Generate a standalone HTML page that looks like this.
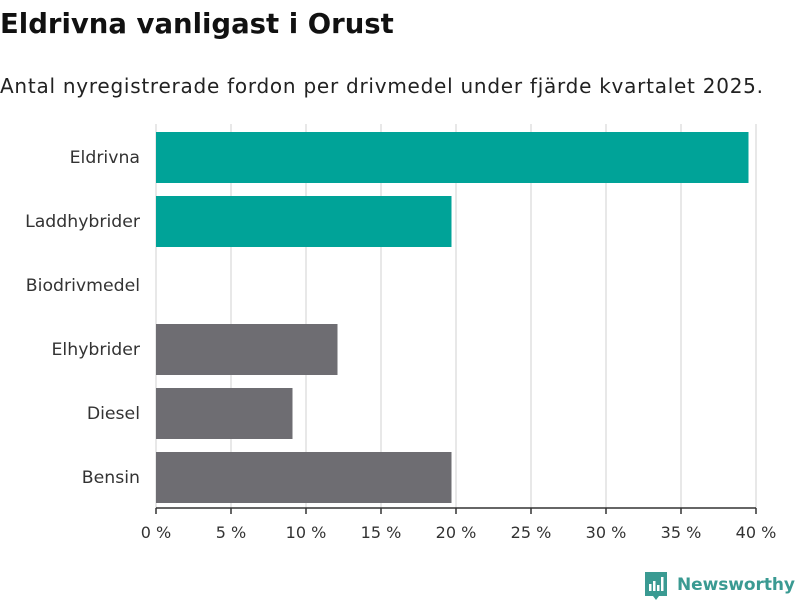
<!DOCTYPE html>
<html><head><meta charset="utf-8"><style>
body{margin:0;width:800px;height:600px;background:#fff;font-family:"DejaVu Sans","Liberation Sans",sans-serif;overflow:hidden}
</style></head><body>
<svg width="800" height="600" xmlns="http://www.w3.org/2000/svg">
<text x="0" y="33" font-size="27.5" font-weight="bold" fill="#111">Eldrivna vanligast i Orust</text>
<text x="0" y="93" font-size="20" fill="#222" textLength="763">Antal nyregistrerade fordon per drivmedel under fjärde kvartalet 2025.</text>
<g id="grid"></g><g id="bars"></g><g id="axis"></g>
<g>
<path d="M645 572 h22 v24 h-8 l-3 4 l-3 -4 h-8 z" fill="#3a9a92"/>
<rect x="649" y="584" width="2.5" height="7" fill="#fff"/><rect x="653" y="581" width="2.5" height="10" fill="#fff"/><rect x="657" y="585" width="2.5" height="6" fill="#fff"/><rect x="661" y="577" width="2.5" height="14" fill="#fff"/>
<text x="677" y="590" font-size="17" fill="#3a9a92" font-weight="bold" textLength="118">Newsworthy</text>
</g>
</svg>
<script>
const categories=["Eldrivna","Laddhybrider","Biodrivmedel","Elhybrider","Diesel","Bensin"];
const values=[39.5,19.7,0,12.1,9.1,19.7];
const colors=["#00a398","#00a398","#00a398","#6e6d72","#6e6d72","#6e6d72"];
const ticks=[0,5,10,15,20,25,30,35,40];
const NS="http://www.w3.org/2000/svg";
const X0=156,X1=756,TOP=124,BOTTOM=508,BAND=64;
const xs=v=>X0+(v/40)*(X1-X0);
function mk(t,a,p){const e=document.createElementNS(NS,t);for(const k in a)e.setAttribute(k,a[k]);p.appendChild(e);return e;}
const g=document.getElementById('grid'),b=document.getElementById('bars'),ax=document.getElementById('axis');
ticks.forEach(t=>{
 const l=mk('line',{x1:xs(t),x2:xs(t),y1:TOP,y2:BOTTOM,stroke:'#e0e0e0','stroke-width':1.5},g);
 
 
 const tk=mk('line',{x1:xs(t),x2:xs(t),y1:BOTTOM,y2:514,stroke:'#333','stroke-width':1.5},ax);
 
 
 const tx=mk('text',{x:xs(t),y:538,'font-size':16,fill:'#333','text-anchor':'middle'},ax);
 tx.textContent=t+' %';
 
 
});
const al=mk('line',{x1:X0,x2:X1,y1:BOTTOM,y2:BOTTOM,stroke:'#333','stroke-width':1.5},ax);


categories.forEach((c,i)=>{
 const y=TOP+i*BAND;
 if(values[i]>0){
 const r=mk('rect',{x:X0,y:y+8,width:xs(values[i])-X0,height:51,fill:colors[i]},b);
 
 
 }
 const t=mk('text',{x:140,y:y+39,'font-size':17.3,fill:'#333','text-anchor':'end'},ax);
 t.textContent=c;
 
 
});
</script>
</body></html>
